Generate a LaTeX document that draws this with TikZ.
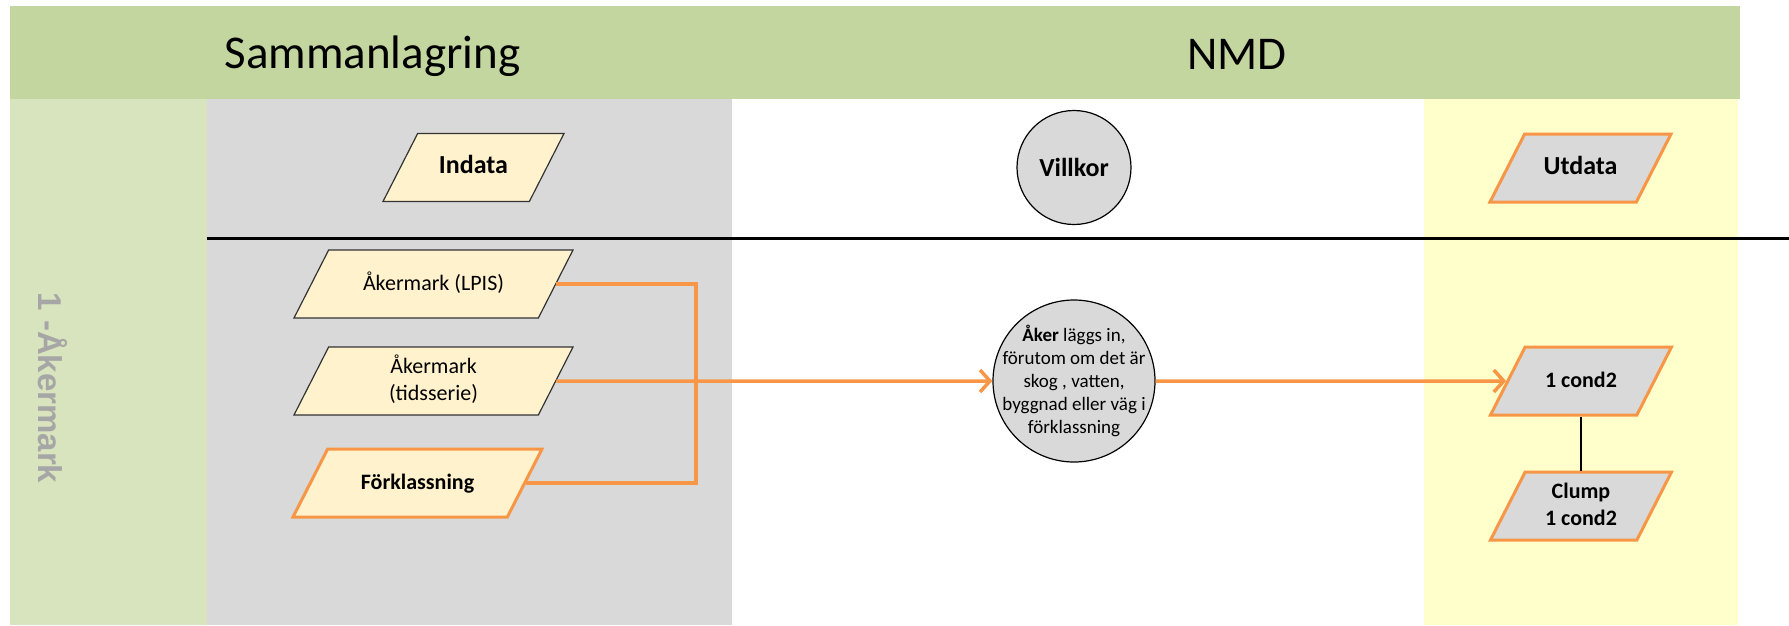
\documentclass[tikz,border=0pt]{standalone}
\usepackage{fontspec}
\setmainfont{Carlito}
\newfontfamily\lanefont{Liberation Sans}
\usepackage{tikz}
\usetikzlibrary{shapes.geometric,arrows.meta}
\definecolor{headgreen}{RGB}{196,214,160}
\definecolor{lanegreen}{RGB}{215,228,189}
\definecolor{poolgray}{RGB}{217,217,217}
\definecolor{outyellow}{RGB}{255,255,204}
\definecolor{infill}{RGB}{255,242,204}
\definecolor{flowcolor}{RGB}{247,150,70}
\definecolor{lanetext}{RGB}{166,166,166}
\newcommand{\twoline}[2]{\begin{tabular}{@{}c@{}}#1\\#2\end{tabular}}

\begin{document}
\begin{tikzpicture}[x=1pt, y=-1pt, node distance=97pt,
	dataparal/.style={trapezium, trapezium left angle=63, trapezium right angle=117, trapezium stretches body, text height=40pt, text depth=28pt, inner ysep=0pt, inner xsep=1pt, minimum height=68pt, line width=1.2pt, draw=black!80, fill=infill, font=\fontsize{22}{27}\selectfont},
	keyparal/.style={dataparal, draw=flowcolor, line width=3pt},
	outparal/.style={keyparal, fill=poolgray, font=\bfseries\fontsize{22}{27}\selectfont},
	headtext/.style={font=\bfseries\fontsize{26}{31}\selectfont},
	villkor/.style={circle, draw=black, line width=1.2pt, fill=poolgray, inner sep=0pt},
	ruletext/.style={align=center, font=\fontsize{19}{23}\selectfont},
	flow/.style={draw=flowcolor, line width=3.5pt},
	flowarrow/.style={flow, -{Straight Barb[length=10pt, width=22pt]}}
]
	\useasboundingbox (0,0) rectangle (1789,625);
	\fill[headgreen] (10,6) rectangle (1740,99);
	\fill[lanegreen] (10,99) rectangle (207,625);
	\fill[poolgray] (207,99) rectangle (732,625);
	\fill[outyellow] (1424,99) rectangle (1738,625);
	\draw[line width=3pt] (207,238) -- (1789,238);

	\node[anchor=base west, font=\fontsize{47}{56}\selectfont] (pool) at (221,68) {Sammanlagring};
	\node[anchor=base, font=\fontsize{47}{56}\selectfont] (nmd) at (1237,69) {NMD};
	\node[rotate=-90, text=lanetext, font=\lanefont\bfseries\fontsize{33}{40}\selectfont] (lane) at (53,388) {1 -Åkermark};

	\node[dataparal, headtext, minimum width=181pt] (indata) at (473.5,167.5) {Indata};
	\node[villkor, headtext, minimum size=114pt] (villkor) at (1074,167.5) {Villkor};
	\node[outparal, headtext, minimum width=181pt] (utdata) at (1580.5,168) {Utdata};

	\node[dataparal, minimum width=279pt] (lpis) at (433.5,284) {Åkermark (LPIS)};
	\node[dataparal, minimum width=279pt, below of=lpis] (tids) {\twoline{Åkermark}{(tidsserie)}};
	\node[keyparal, minimum width=249pt, font=\bfseries\fontsize{22}{27}\selectfont, below of=tids, xshift=-16pt, yshift=-5pt] (forkl) {Förklassning};
	\coordinate (joint) at (696,381);

	\node[villkor, minimum size=162pt, label={[ruletext]center:{\textbf{Åker} läggs in,\\förutom om det är\\skog , vatten,\\byggnad eller väg i\\förklassning}}] (rule) at (1074,381) {};

	\node[outparal, minimum width=181pt] (cond) at (1581,381) {1 cond2};
	\node[outparal, minimum width=181pt, below of=cond, yshift=-28pt] (clump) {\twoline{Clump}{1 cond2}};

	\draw[flow] (lpis.east) -| (joint) |- (forkl.east);
	\draw[flowarrow] (tids.east) -- (rule.west);
	\draw[flowarrow] (rule.east) -- (cond.west);
	\draw[line width=1.2pt] (cond.south) -- (clump.north);
\end{tikzpicture}
\end{document}
